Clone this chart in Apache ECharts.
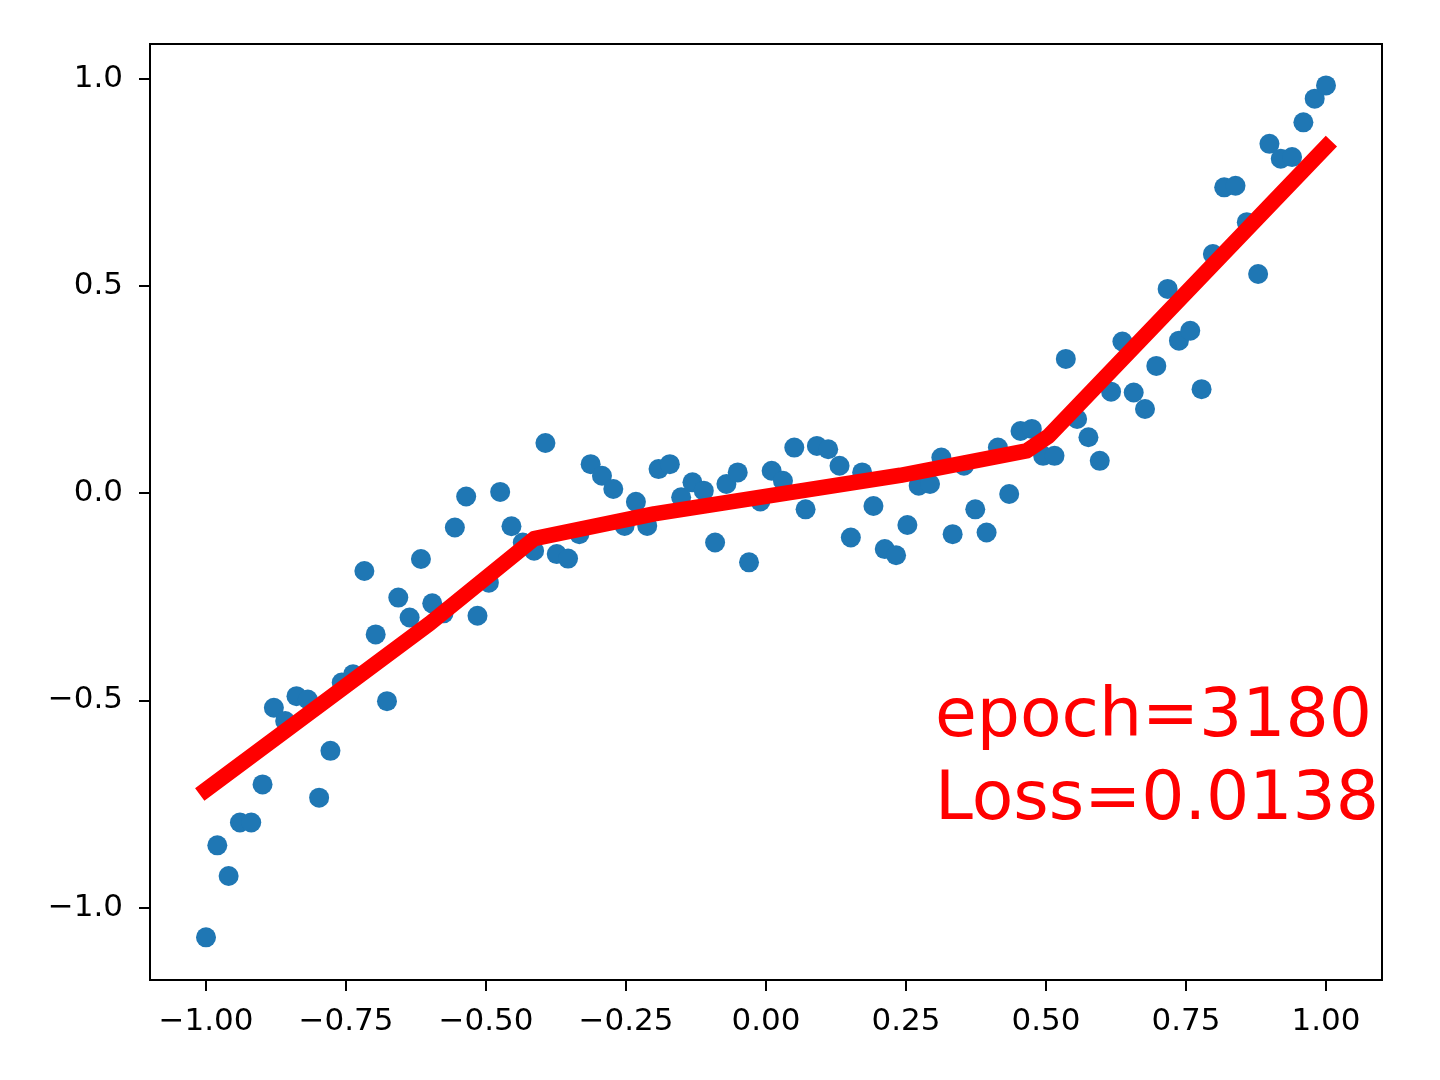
<!DOCTYPE html>
<html>
<head>
<meta charset="utf-8">
<script src="https://cdn.jsdelivr.net/npm/echarts@6/dist/echarts.min.js"></script>
<style>html,body{margin:0;padding:0;background:#fff}#c{width:1440px;height:1080px}</style>
</head>
<body>
<div id="c"></div>
<script>
const xValues = [-1.0000,-0.9798,-0.9596,-0.9394,-0.9192,-0.8990,-0.8788,-0.8586,-0.8384,-0.8182,
-0.7980,-0.7778,-0.7576,-0.7374,-0.7172,-0.6970,-0.6768,-0.6566,-0.6364,-0.6162,
-0.5960,-0.5758,-0.5556,-0.5354,-0.5152,-0.4949,-0.4747,-0.4545,-0.4343,-0.4141,
-0.3939,-0.3737,-0.3535,-0.3333,-0.3131,-0.2929,-0.2727,-0.2525,-0.2323,-0.2121,
-0.1919,-0.1717,-0.1515,-0.1313,-0.1111,-0.0909,-0.0707,-0.0505,-0.0303,-0.0101,
0.0101,0.0303,0.0505,0.0707,0.0909,0.1111,0.1313,0.1515,0.1717,0.1919,
0.2121,0.2323,0.2525,0.2727,0.2929,0.3131,0.3333,0.3535,0.3737,0.3939,
0.4141,0.4343,0.4545,0.4747,0.4949,0.5152,0.5354,0.5556,0.5758,0.5960,
0.6162,0.6364,0.6566,0.6768,0.6970,0.7172,0.7374,0.7576,0.7778,0.7980,
0.8182,0.8384,0.8586,0.8788,0.8990,0.9192,0.9394,0.9596,0.9798,1.0000];
const yValues = [-1.072,-0.850,-0.924,-0.795,-0.795,-0.703,-0.518,-0.550,-0.490,-0.498,
-0.735,-0.622,-0.457,-0.437,-0.188,-0.341,-0.502,-0.252,-0.300,-0.159,
-0.266,-0.290,-0.083,-0.008,-0.296,-0.216,0.003,-0.080,-0.119,-0.139,
0.121,-0.147,-0.158,-0.099,0.070,0.042,0.010,-0.079,-0.021,-0.079,
0.058,0.070,-0.010,0.026,0.006,-0.119,0.022,0.050,-0.167,-0.020,
0.054,0.030,0.110,-0.039,0.114,0.106,0.066,-0.107,0.050,-0.031,
-0.135,-0.150,-0.077,0.018,0.022,0.086,-0.099,0.066,-0.039,-0.095,
0.110,-0.002,0.150,0.155,0.090,0.090,0.324,0.179,0.135,0.078,
0.245,0.366,0.243,0.203,0.307,0.493,0.368,0.392,0.251,0.577,
0.738,0.742,0.654,0.529,0.843,0.807,0.811,0.895,0.952,0.984];
const fitX = [-1.0, -0.6, -0.414, -0.2, 0.24, 0.465, 0.505, 1.0];
const fitY = [-0.716, -0.314, -0.110, -0.050, 0.043, 0.102, 0.138, 0.836];
const xTicks = [-1, -0.75, -0.5, -0.25, 0, 0.25, 0.5, 0.75, 1];
const yTicks = [-1, -0.5, 0, 0.5, 1];
const annotation = ['epoch=3180', 'Loss=0.0138'];

const scatterData = xValues.map((x, i) => [x, yValues[i]]);
const lineData = fitX.map((x, i) => [x, fitY[i]]);
const fmt = (d) => (v) => { const s = Math.abs(v).toFixed(d); return (v < -1e-9 ? '\u2212' : '') + s; };

const chart = echarts.init(document.getElementById('c'), null, {renderer: 'canvas'});
chart.setOption({
  animation: false,
  backgroundColor: '#ffffff',
  grid: {left: 150, top: 44, width: 1232, height: 936, show: true, borderColor: '#000', borderWidth: 2, backgroundColor: 'transparent'},
  xAxis: {
    type: 'value', min: -1.1, max: 1.1,
    splitLine: {show: false},
    axisLine: {show: true, onZero: false, lineStyle: {color: '#000', width: 2}},
    axisTick: {show: true, inside: false, length: 11, lineStyle: {color: '#000', width: 2}, customValues: xTicks},
    axisLabel: {customValues: xTicks, formatter: fmt(2), color: '#000', fontFamily: 'DejaVu Sans', fontSize: 31, margin: 26}
  },
  yAxis: {
    type: 'value', min: -1.175, max: 1.084,
    splitLine: {show: false},
    axisLine: {show: true, onZero: false, lineStyle: {color: '#000', width: 2}},
    axisTick: {show: true, inside: false, length: 11, lineStyle: {color: '#000', width: 2}, customValues: yTicks},
    axisLabel: {customValues: yTicks, formatter: fmt(1), color: '#000', fontFamily: 'DejaVu Sans', fontSize: 31, margin: 27}
  },
  series: [
    {type: 'scatter', data: scatterData, symbolSize: 20, itemStyle: {color: '#1f77b4', opacity: 1}, z: 2},
    {type: 'line', data: lineData, showSymbol: false, symbol: 'none', z: 3,
     lineStyle: {color: '#ff0000', width: 15.6, cap: 'square', join: 'round'}}
  ],
  graphic: [{
    type: 'text', left: 935, top: 677, z: 10,
    style: {text: annotation.join('\n'), fill: '#ff0000', font: '68px "DejaVu Sans"', lineHeight: 83}
  }]
});
</script>
</body>
</html>
